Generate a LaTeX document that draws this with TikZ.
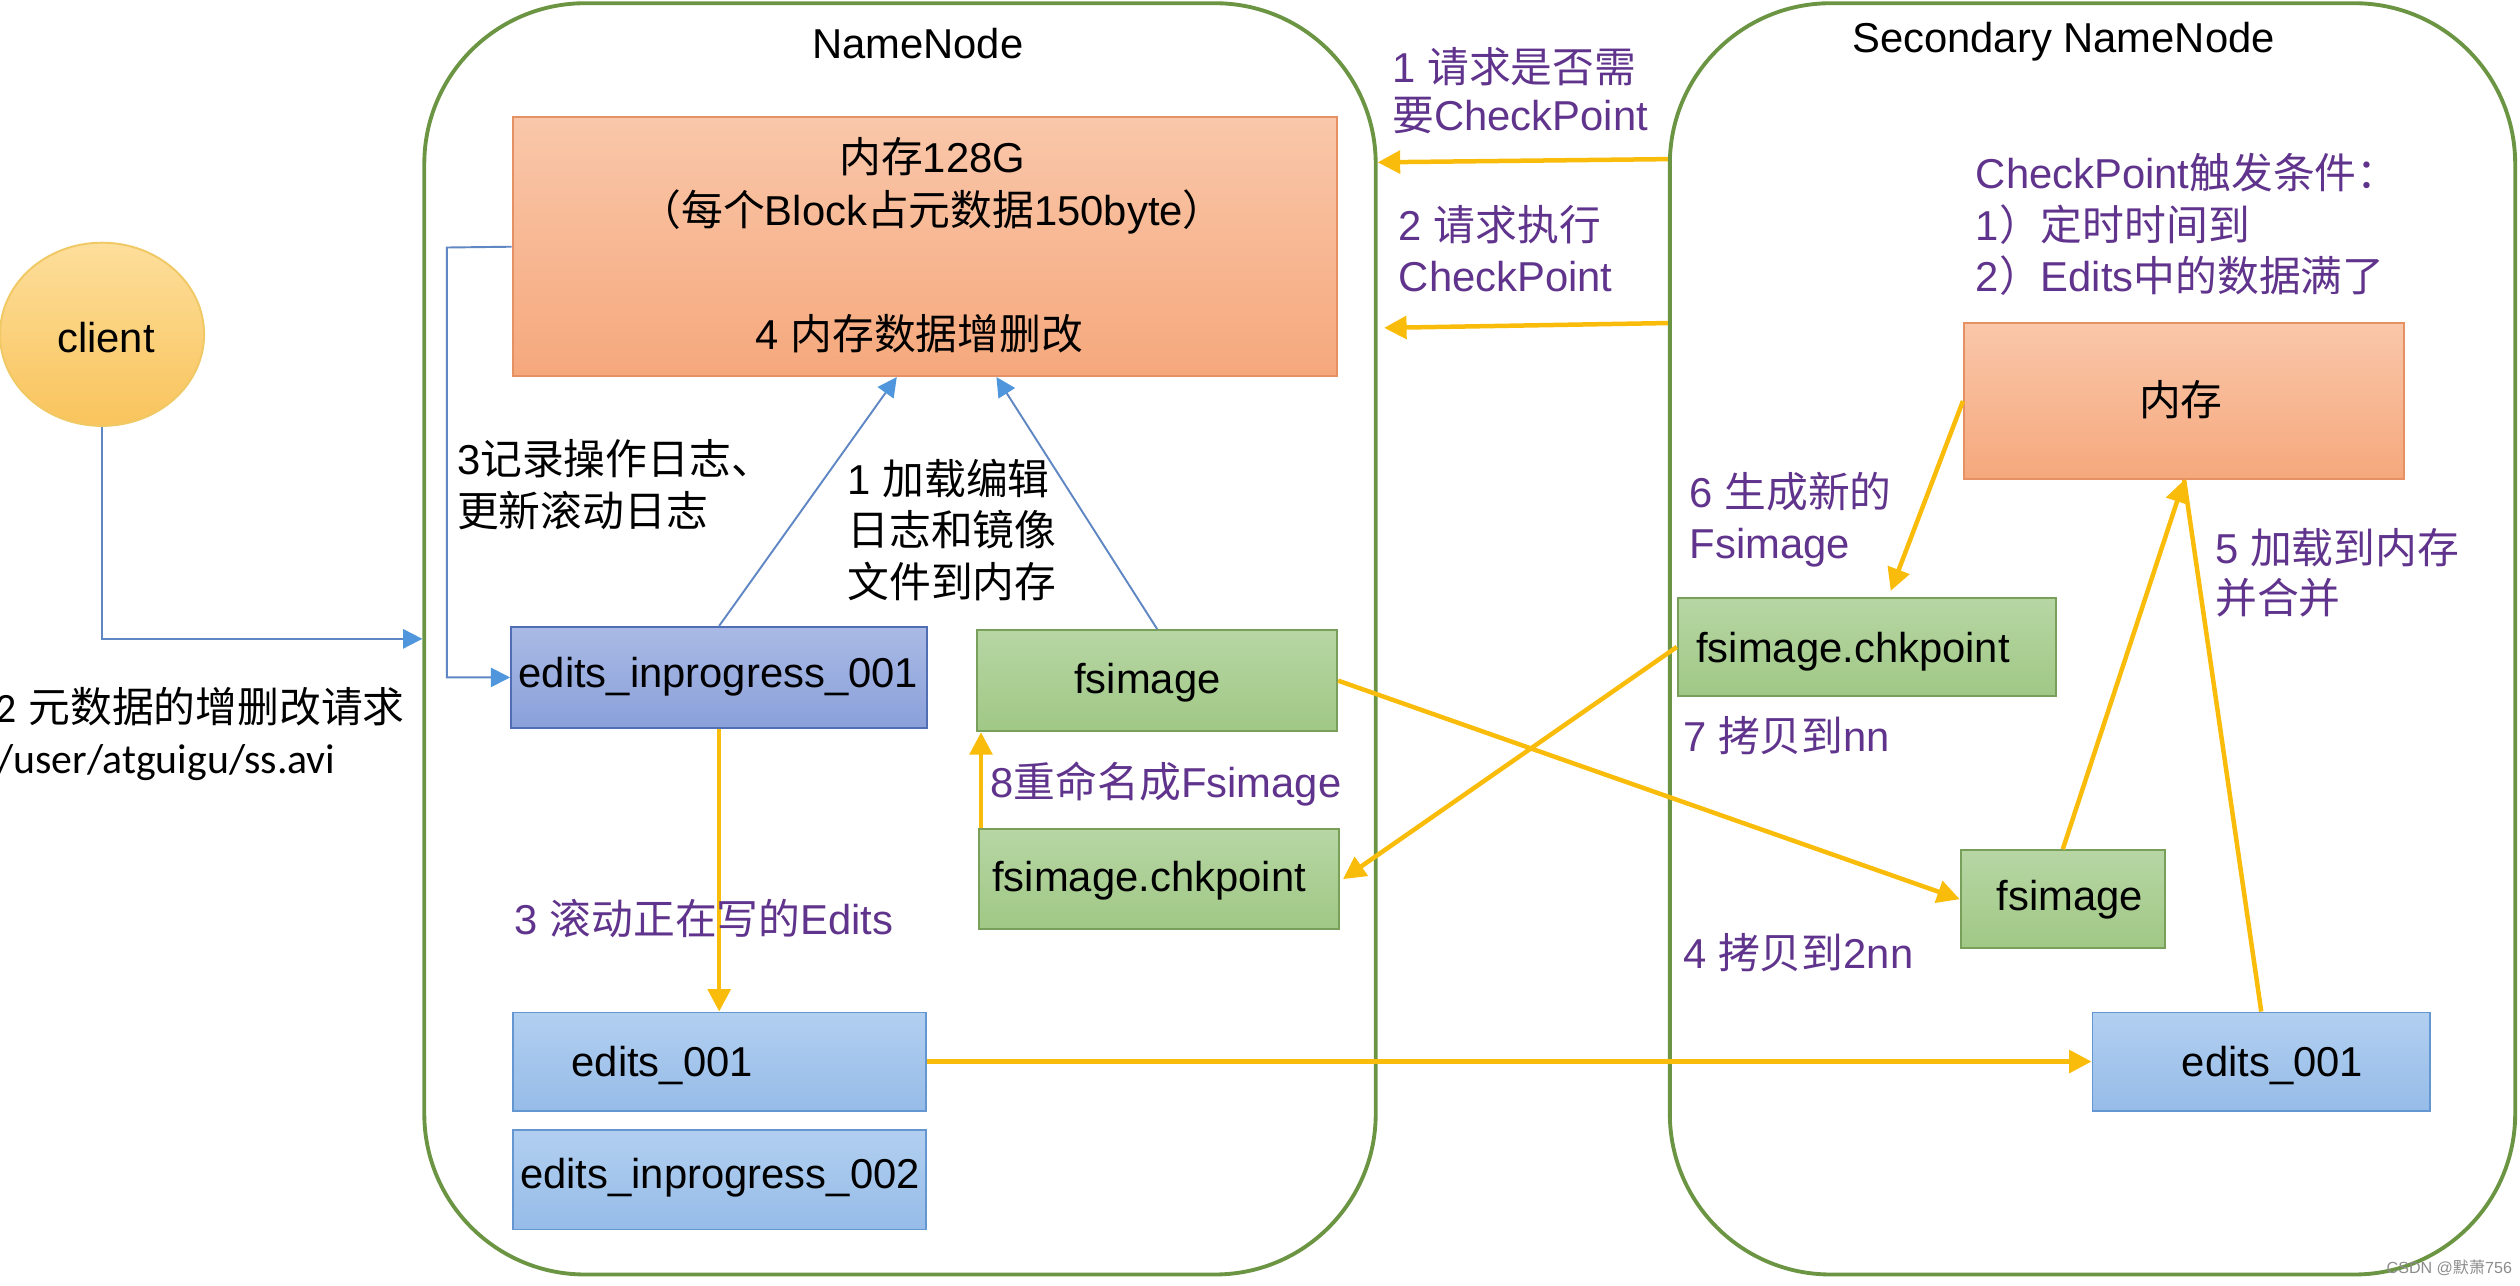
\documentclass[tikz,border=0pt]{standalone}
\usepackage{fontspec}
\setmainfont{Liberation Sans}
\newfontfamily\zhfont{Noto Sans CJK SC}
\newfontfamily\calfont{Carlito}
\newcommand\zh[1]{{\zhfont #1}}
\usetikzlibrary{arrows.meta,fit,calc,shapes.geometric}
\definecolor{cgreen}{RGB}{107,149,67}
\definecolor{otop}{RGB}{249,199,170}
\definecolor{obot}{RGB}{246,168,124}
\definecolor{oborder}{RGB}{230,145,100}
\definecolor{gtop}{RGB}{183,214,164}
\definecolor{gbot}{RGB}{160,200,133}
\definecolor{gborder}{RGB}{120,160,90}
\definecolor{ptop}{RGB}{170,186,229}
\definecolor{pbot}{RGB}{138,160,218}
\definecolor{pborder}{RGB}{80,110,180}
\definecolor{btop}{RGB}{178,207,240}
\definecolor{bbot}{RGB}{150,188,232}
\definecolor{bborder}{RGB}{100,150,210}
\definecolor{cltop}{RGB}{253,222,155}
\definecolor{clbot}{RGB}{249,196,92}
\definecolor{clborder}{RGB}{240,200,100}
\definecolor{ayellow}{RGB}{250,188,10}
\definecolor{lblue}{RGB}{95,135,195}
\definecolor{hblue}{RGB}{80,150,220}
\definecolor{lpurple}{RGB}{96,52,140}
\begin{document}
\begin{tikzpicture}[x=0.5pt,y=-0.5pt,
  font=\fontsize{13}{16}\selectfont,
  container/.style={draw=cgreen, line width=1.2pt, rounded corners=50pt, inner sep=0pt},
  basebox/.style={inner sep=0pt, line width=0.6pt},
  orangebox/.style={basebox, draw=oborder, top color=otop, bottom color=obot},
  greenbox/.style={basebox, draw=gborder, top color=gtop, bottom color=gbot},
  purplebox/.style={basebox, draw=pborder, top color=ptop, bottom color=pbot},
  bluebox/.style={basebox, draw=bborder, top color=btop, bottom color=bbot},
  lbl/.style={inner sep=0pt, text height=9.5pt, text depth=0pt},
  plbl/.style={lbl, text=lpurple},
  yarr/.style={draw=ayellow, line width=1.4pt, -{Triangle[length=7pt,width=7pt]}},
  yline/.style={draw=ayellow, line width=1.4pt},
  barr/.style={draw=lblue, line width=0.6pt, -{Triangle[length=6pt,width=6pt,color=hblue]}}
]
\useasboundingbox (0,0) rectangle (1568,799.6);

% containers
\node[container, fit={(264,2)(856,793)}] (nn) {};
\node[container, fit={(1039,2)(1565,793)}] (snn) {};
\node[lbl] (nntitle) at (571,27) {NameNode};
\node[lbl] (snntitle) at (1284,23) {Secondary NameNode};

% client
\node[ellipse, draw=clborder, top color=cltop, bottom color=clbot, line width=0.6pt,
      minimum width=63.5pt, minimum height=57pt, inner sep=0pt] (client) at (63.5,208) {};
\node[lbl] (clienttxt) at (66,210) {client};

% NameNode boxes
\node[orangebox, fit={(319,73)(832,234)}] (mem) {};
\node[lbl] (memA) at (580,98) {\zh{内存}128G};
\node[lbl] (memB) at (580,131) {\zh{（每个}Block\zh{占元数据}150byte\zh{）}};
\node[lbl] (memC) at (572,208) {4 \zh{内存数据增删改}};

\node[purplebox, fit={(318,390)(577,453)}] (eip1) {};
\node[lbl] (eip1t) at (447,418) {edits\_inprogress\_001};

\node[greenbox, fit={(608,392)(832,455)}] (fsi) {};
\node[lbl] (fsit) at (714,422) {fsimage};

\node[greenbox, fit={(609,516)(833,578)}] (fck) {};
\node[lbl] (fckt) at (715,545) {fsimage.chkpoint};

\node[bluebox, fit={(319,630)(576,691)}] (e1) {};
\node[lbl] (e1t) at (412,660) {edits\_001};

\node[bluebox, fit={(319,703)(576,765)}] (eip2) {};
\node[lbl] (eip2t) at (448,730) {edits\_inprogress\_002};

% Secondary NameNode boxes
\node[orangebox, fit={(1222,201)(1496,298)}] (smem) {};
\node[lbl] (smemt) at (1357,249) {\zh{内存}};

\node[greenbox, fit={(1044,372)(1279,433)}] (sck) {};
\node[lbl] (sckt) at (1153,403) {fsimage.chkpoint};

\node[greenbox, fit={(1220,529)(1347,590)}] (sfs) {};
\node[lbl] (sfst) at (1288,557) {fsimage};

\node[bluebox, fit={(1302,630)(1512,691)}] (se1) {};
\node[lbl] (se1t) at (1414,660) {edits\_001};

% blue connectors
\coordinate (memL) at (278,154);
\draw[barr] (client.south) |- (nn.west);
\draw[barr] (mem.west) -- (memL) |- (eip1.west);
\draw[barr] (eip1.north) -- (mem.south -| 558,0);
\draw[barr] (fsi.north) -- (mem.south -| 620,0);

% yellow connectors
\draw[yarr] (eip1.south) -- (e1.north);
\draw[yarr] ($(fck.north west)+(2,0)$) -- ($(fsi.south west)+(3,0)$);
\draw[yarr] (snn.west |- 0,99) -- (nn.east |- 0,101);
\draw[yarr] (snn.west |- 0,201) -- ([xshift=2pt]nn.east |- 0,204);
\draw[yarr] (fsi.east) -- (sfs.west);
\draw[yarr] (sck.west) -- ([xshift=1pt]fck.east);
\draw[yarr] (e1.east) -- (se1.west);
\draw[yline] (se1.north) -- (smem.south);
\draw[yarr] (sfs.north) -- (smem.south);
\draw[yarr, shorten >=2pt] (smem.west) -- (sck.north -| 1175,0);

% black labels
\node[lbl, anchor=west] (l3a) at (284,286) {3\zh{记录操作日志、}};
\node[lbl, anchor=west] (l3b) at (284,318) {\zh{更新滚动日志}};
\node[lbl, anchor=west] (l1a) at (527,298) {1 \zh{加载编辑}};
\node[lbl, anchor=west] (l1b) at (527,330) {\zh{日志和镜像}};
\node[lbl, anchor=west] (l1c) at (527,362) {\zh{文件到内存}};
\node[lbl, anchor=west] (req1) at (-3,440) {{\calfont 2} \zh{元数据的增删改请求}};
\node[lbl, anchor=west] (req2) at (-2,472) {\calfont /user/atguigu/ss.avi};

% purple labels
\node[plbl, anchor=west] (p3) at (320,572) {3 \zh{滚动正在写的}Edits};
\node[plbl, anchor=west] (p8) at (616,487) {8\zh{重命名成}Fsimage};
\node[plbl, anchor=west] (p1a) at (866,42) {1 \zh{请求是否需}};
\node[plbl, anchor=west] (p1b) at (866,72) {\zh{要}CheckPoint};
\node[plbl, anchor=west] (p2a) at (870,140) {2 \zh{请求执行}};
\node[plbl, anchor=west] (p2b) at (870,172) {CheckPoint};
\node[plbl, anchor=west] (pca) at (1229,108) {CheckPoint\zh{触发条件：}};
\node[plbl, anchor=west] (pcb) at (1229,140) {1\zh{）定时时间到}};
\node[plbl, anchor=west] (pcc) at (1229,172) {2\zh{）}Edits\zh{中的数据满了}};
\node[plbl, anchor=west] (p6a) at (1051,306) {6 \zh{生成新的}};
\node[plbl, anchor=west] (p6b) at (1051,338) {Fsimage};
\node[plbl, anchor=west] (p5a) at (1378,341) {5 \zh{加载到内存}};
\node[plbl, anchor=west] (p5b) at (1378,372) {\zh{并合并}};
\node[plbl, anchor=west] (p7) at (1047,458) {7 \zh{拷贝到}nn};
\node[plbl, anchor=west] (p4) at (1047,593) {4 \zh{拷贝到}2nn};

% watermark
\node[inner sep=0pt, text=black!45, font=\fontsize{5}{6}\selectfont] (wm) at (1524,789) {CSDN @\zh{默萧}756};
\end{tikzpicture}
\end{document}
